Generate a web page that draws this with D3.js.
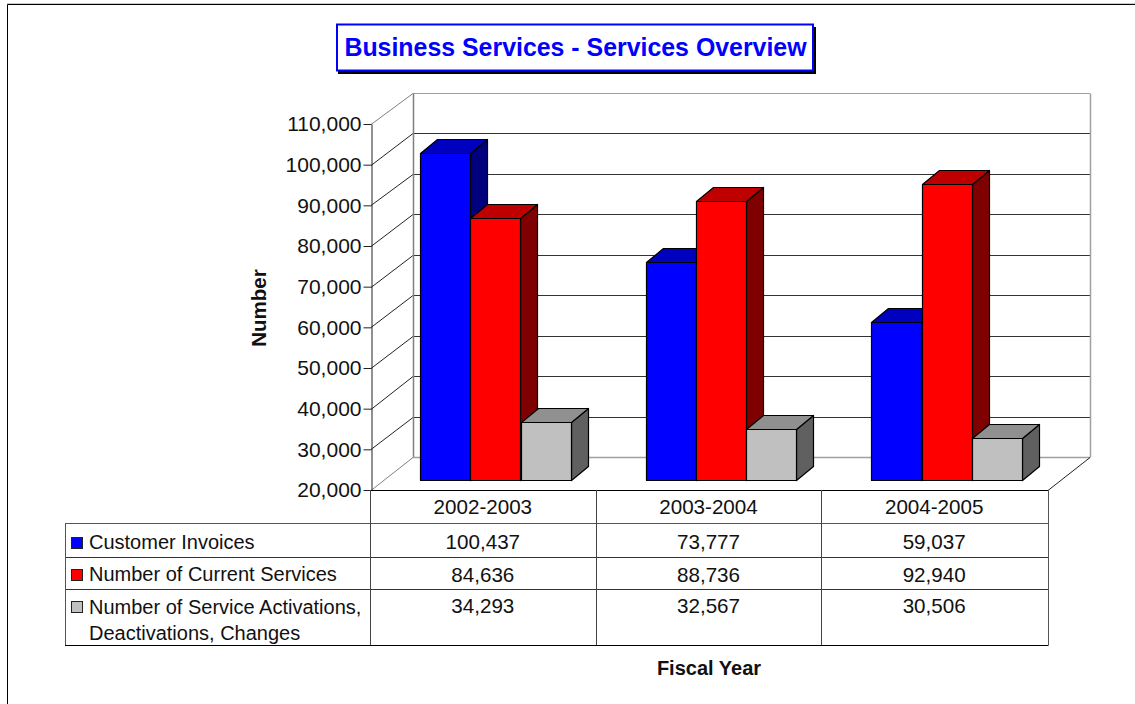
<!DOCTYPE html>
<html><head><meta charset="utf-8">
<style>html,body{margin:0;padding:0;background:#fff}svg{display:block}text{font-family:"Liberation Sans",Arial,sans-serif;fill:#111}</style>
<script src="https://cdn.jsdelivr.net/npm/d3@7/dist/d3.min.js"></script></head><body>
<svg id="c" width="1135" height="704"></svg>
<script>
const titleText="Business Services - Services Overview";
const yAxisTitle="Number", xAxisTitle="Fiscal Year";
const categories=["2002-2003","2003-2004","2004-2005"];
const seriesNames=["Customer Invoices","Number of Current Services","Number of Service Activations, Deactivations, Changes"];
const customerInvoices=[100437,73777,59037];
const currentServices=[84636,88736,92940];
const activations=[34293,32567,30506];
const tickValues=[20000,30000,40000,50000,60000,70000,80000,90000,100000,110000];
const fills=["#0000ff","#ff0000","#c0c0c0"];
const topFills=["#0000bf","#bf0000","#909090"];
const sideFills=["#00007f","#7f0000","#606060"];
const seriesValues=[customerInvoices,currentServices,activations];

const svg=d3.select("#c");
const fmt=d3.format(",");
const crisp=v=>Math.round(v)+.5;
const X0=371,X1=1048,YB=490,YT=124,DX=42,DY=33;
const y=d3.scaleLinear().domain([20000,110000]).range([YB,YT]);
const yBack=d3.scaleLinear().domain([20000,110000]).range([YB-DY,YT-DY+2]);
const yBar=d3.scaleLinear().domain([20000,110000]).range([480.5,480.5-366]);
const xCat=d3.scaleBand().domain(categories).range([X0,X1]);
const xBar=d3.scaleBand().domain([0,1,2]).range([50,50+151]);
const bdx=17,bdy=14;

// outer frame
svg.append("path").attr("d","M7.5,704V4.5H1135").attr("fill","none").attr("stroke","#000").attr("stroke-width",1);
svg.append("path").attr("d","M7,3.5H1135").attr("fill","none").attr("stroke","#ccc");

// walls and gridlines
const g=svg.append("g");
tickValues.forEach((t,i)=>{
  const yb=crisp(yBack(t)), yf=crisp(y(t));
  if(i>0){
    g.append("line").attr("x1",X0+DX).attr("x2",X1+DX).attr("y1",yb).attr("y2",yb)
      .attr("stroke",i===9?"#a0a0a0":"#333").attr("stroke-width",1);
    g.append("line").attr("x1",X0).attr("x2",X0+DX).attr("y1",yf).attr("y2",yb).attr("stroke",i===9?"#808080":"#222");
  }
});
g.append("line").attr("x1",X0+DX+.5).attr("x2",X0+DX+.5).attr("y1",crisp(yBack(110000))).attr("y2",crisp(yBack(20000))).attr("stroke","#808080").attr("stroke-width",1.5);
g.append("line").attr("x1",X1+DX+.5).attr("x2",X1+DX+.5).attr("y1",crisp(yBack(110000))).attr("y2",crisp(yBack(20000))).attr("stroke","#a0a0a0").attr("stroke-width",1.5);
g.append("line").attr("x1",X0+DX).attr("x2",X1+DX).attr("y1",crisp(yBack(20000))).attr("y2",crisp(yBack(20000))).attr("stroke","#a0a0a0").attr("stroke-width",1.5);
g.append("line").attr("x1",X0).attr("x2",X0+DX).attr("y1",crisp(YB)).attr("y2",crisp(yBack(20000))).attr("stroke","#808080");
g.append("line").attr("x1",X1).attr("x2",X1+DX).attr("y1",crisp(YB)).attr("y2",crisp(yBack(20000))).attr("stroke","#222");

// left axis
const ax=svg.append("g").attr("transform",`translate(${X0+.5},0)`)
  .call(d3.axisLeft(y).tickValues(tickValues).tickFormat(fmt).tickSize(8).tickPadding(2).tickSizeOuter(0));
ax.selectAll("path").attr("stroke","#222");
ax.selectAll("line").attr("stroke","#222");
ax.selectAll("text").attr("font-size",21).style("fill","#111");

// bars
categories.forEach((c,ci)=>{
  [0,1,2].forEach(si=>{
    const x=crisp(xCat(c)+xBar(si))-1, w=Math.round(xBar.bandwidth()), v=seriesValues[si][ci];
    const top=crisp(yBar(v)), bot=crisp(yBar(20000))-1;
    const bar=svg.append("g").attr("stroke","#000").attr("stroke-width",1.2).attr("stroke-linejoin","round");
    bar.append("path").attr("fill",sideFills[si])
      .attr("d",`M${x+w},${top}l${bdx},${-bdy}V${bot-bdy}l${-bdx},${bdy}Z`);
    bar.append("path").attr("fill",topFills[si])
      .attr("d",`M${x},${top}l${bdx},${-bdy}h${w}l${-bdx},${bdy}Z`);
    bar.append("rect").attr("fill",fills[si]).attr("x",x).attr("y",top).attr("width",w).attr("height",bot-top);
  });
});

// table
const rowY=[YB,523,557,589,645], TL=65;
const t=svg.append("g");
const L=(x1,y1,x2,y2,col)=>t.append("line").attr("x1",x1).attr("y1",y1).attr("x2",x2).attr("y2",y2).attr("stroke",col||"#222");
L(X0,YB+.5,X1+.5,YB+.5,"#000");
rowY.slice(1).forEach((ry,i)=>L(TL,ry+.5,X1+.5,ry+.5,i===0?"#555":(i===3?"#000":"#333")));
L(TL+.5,rowY[1],TL+.5,rowY[4],"#555");
categories.forEach((c,i)=>{const xx=crisp(xCat(c))-1;L(xx,YB,xx,rowY[4],"#444");});
L(X1+.5,YB,X1+.5,rowY[4],"#555");
const T=(x,yy,s,a,fs,w)=>t.append("text").attr("x",x).attr("y",yy).attr("text-anchor",a||"start").attr("font-size",fs||20).attr("font-weight",w||null).text(s);
categories.forEach((c,i)=>{
  const cx=xCat(c)+xCat.bandwidth()/2-1;
  T(cx,514,c,"middle",20.6);
  seriesValues.forEach((s,si)=>T(cx,[549,582,613][si],fmt(s[i]),"middle",20.6));
});
T(89,549,seriesNames[0]);
T(89,581,seriesNames[1]);
T(89,614,"Number of Service Activations,");
T(89,640,"Deactivations, Changes");
[0,1,2].forEach(si=>t.append("rect").attr("x",71.5).attr("y",[538,570,602][si]-.5).attr("width",11).attr("height",11).attr("fill",fills[si]).attr("stroke","#222"));

// titles
T(709,675,xAxisTitle,"middle",20,"bold");
svg.append("text").attr("transform","translate(266,308) rotate(-90)").attr("text-anchor","middle").attr("font-size",20.5).attr("font-weight","bold").text(yAxisTitle);
svg.append("rect").attr("x",338).attr("y",27).attr("width",478).attr("height",47).attr("fill","#000");
svg.append("rect").attr("x",337).attr("y",24.5).attr("width",476).attr("height",46).attr("fill","#fff").attr("stroke","#0000ff").attr("stroke-width",2);
svg.append("text").attr("x",575.5).attr("y",56).attr("text-anchor","middle").attr("font-size",24.9).attr("font-weight","bold").style("fill","#0000ff").text(titleText);
</script></body></html>
